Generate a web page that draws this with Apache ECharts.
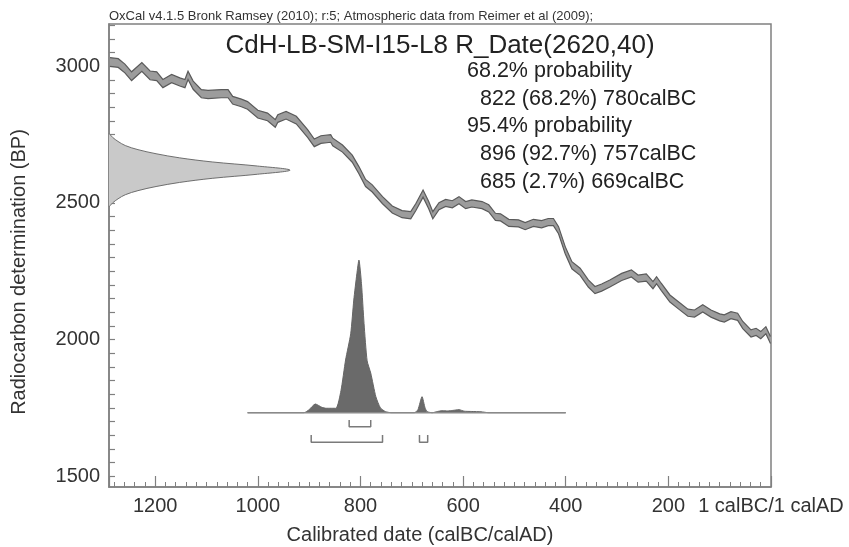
<!DOCTYPE html>
<html>
<head>
<meta charset="utf-8">
<script src="https://cdn.jsdelivr.net/npm/echarts@6/dist/echarts.min.js"></script>
<style>
  html, body { margin: 0; padding: 0; background: #fff; }
  #chart { width: 849px; height: 547px; }
</style>
</head>
<body>
<div id="chart"></div>
<script>
// Calibration curve (IntCal09): calendar year (calBC), radiocarbon age (BP), 1-sigma error (BP)
const curveYears = [1288, 1272, 1259, 1246, 1226, 1210, 1197, 1185, 1168, 1152, 1142, 1136, 1126, 1110, 1097, 1071, 1058, 1049, 1032, 1020, 1000, 981, 966, 961, 945, 925, 903, 890, 877, 858, 854, 835, 816, 803, 790, 777, 757, 738, 719, 702, 692, 678, 667, 659, 647, 634, 621, 608, 595, 583, 563, 550, 537, 527, 511, 492, 479, 463, 447, 434, 424, 414, 401, 388, 372, 356, 343, 330, 314, 291, 272, 259, 243, 230, 223, 214, 197, 181, 162, 149, 133, 117, 100, 91, 78, 65, 55, 39, 29, 20, 10, 1];
const curveBP    = [3016, 3012, 2992, 2964, 2998, 2967, 2964, 2937, 2955, 2943, 2937, 2967, 2931, 2900, 2897, 2900, 2900, 2876, 2866, 2857, 2825, 2815, 2791, 2809, 2821, 2803, 2754, 2720, 2732, 2736, 2723, 2699, 2662, 2620, 2573, 2553, 2510, 2476, 2459, 2455, 2485, 2534, 2492, 2455, 2488, 2500, 2495, 2510, 2492, 2498, 2492, 2480, 2449, 2447, 2427, 2425, 2415, 2427, 2422, 2430, 2430, 2400, 2327, 2272, 2248, 2205, 2181, 2190, 2205, 2229, 2242, 2223, 2227, 2199, 2217, 2193, 2150, 2126, 2098, 2095, 2114, 2095, 2081, 2077, 2089, 2083, 2053, 2022, 2028, 2016, 2034, 1998];
const curveErr   = [16, 16, 16, 16, 16, 16, 16, 15, 15, 15, 15, 15, 15, 15, 15, 15, 15, 14, 14, 14, 14, 14, 14, 14, 14, 14, 14, 14, 14, 14, 14, 13, 13, 13, 13, 13, 13, 13, 13, 13, 13, 13, 13, 13, 13, 13, 13, 13, 13, 13, 13, 13, 13, 13, 13, 13, 13, 13, 13, 13, 13, 13, 13, 13, 13, 13, 13, 13, 13, 13, 13, 13, 13, 13, 13, 13, 13, 13, 13, 13, 13, 13, 13, 13, 13, 13, 13, 13, 13, 13, 13, 13];

// Radiocarbon measurement R_Date(2620,40): age (BP) and relative likelihood
const measBP   = [2755, 2740, 2725, 2710, 2695, 2680, 2665, 2650, 2635, 2620, 2605, 2590, 2575, 2560, 2545, 2530, 2515, 2500, 2485];
const measProb = [0.0, 0.02, 0.05, 0.09, 0.16, 0.26, 0.39, 0.57, 0.82, 1.0, 0.82, 0.57, 0.39, 0.26, 0.16, 0.09, 0.05, 0.02, 0.0];

// Calibrated probability distribution: calendar year (calBC) and relative probability
const calYears = [1020, 910, 900, 888, 875, 867, 848, 838, 829, 819, 813, 807, 803, 798, 793, 787, 780, 770, 761, 751, 740, 695, 688, 680, 674, 670, 660, 650, 641, 630, 620, 608, 598, 583, 565, 550, 400];
const calProb  = [0, 0, 0.02, 0.057, 0.035, 0.029, 0.029, 0.144, 0.345, 0.517, 0.738, 0.91, 1.0, 0.845, 0.583, 0.34, 0.26, 0.105, 0.031, 0.007, 0, 0, 0.02, 0.105, 0.03, 0.007, 0, 0.008, 0.013, 0.012, 0.015, 0.02, 0.01, 0.008, 0.006, 0, 0];
const calSpan  = [1020, 400];

// Highest probability density ranges (calBC)
const range68 = [[822, 780]];
const range95 = [[896, 757], [685, 669]];

// Axis labels
const xTickLabels = [0, 200, 400, 600, 800, 1000, 1200];
const yTickLabels = [1500, 2000, 2500, 3000];
const yMinorTicks = [1500, 1550, 1600, 1650, 1700, 1750, 1800, 1850, 1900, 1950, 2000, 2050, 2100, 2150, 2200, 2250, 2300, 2350, 2400, 2450, 2500, 2550, 2600, 2650, 2700, 2750, 2800, 2850, 2900, 2950, 3000, 3050, 3100, 3150];

const headerText = 'OxCal v4.1.5 Bronk Ramsey (2010); r:5; Atmospheric data from Reimer et al (2009);';
const titleText = 'CdH-LB-SM-I15-L8 R_Date(2620,40)';
const summaryLines = [
  ['68.2% probability', 0],
  ['822 (68.2%) 780calBC', 1],
  ['95.4% probability', 0],
  ['896 (92.7%) 757calBC', 1],
  ['685 (2.7%) 669calBC', 1]
];

const FONT = '"Liberation Sans", Arial, sans-serif';
const chart = echarts.init(document.getElementById('chart'), null, { renderer: 'canvas' });

function bracketData(ranges, top, bottom) {
  const out = [];
  ranges.forEach(function (r, i) {
    if (i > 0) out.push([null, null]);
    out.push([r[0], top], [r[0], bottom], [r[1], bottom], [r[1], top]);
  });
  return out;
}

function bandRender(params, api) {
  if (params.dataIndex !== 0) return null;
  const upper = curveYears.map(function (yr, i) { return api.coord([yr, curveBP[i] + curveErr[i]]); });
  const lower = curveYears.map(function (yr, i) { return api.coord([yr, curveBP[i] - curveErr[i]]); });
  return {
    type: 'group',
    children: [
      { type: 'polygon', shape: { points: upper.concat(lower.slice().reverse()) }, style: { fill: '#9c9c9c', stroke: null } },
      { type: 'polyline', shape: { points: upper }, style: { stroke: '#5a5a5a', lineWidth: 1.2, fill: null } },
      { type: 'polyline', shape: { points: lower }, style: { stroke: '#5a5a5a', lineWidth: 1.2, fill: null } }
    ]
  };
}

function measRender(params, api) {
  if (params.dataIndex !== 0) return null;
  const pts = measBP.map(function (bp, i) { return api.coord([measProb[i], bp]); });
  return {
    type: 'polyline',
    shape: { points: pts, smooth: 0.35 },
    style: { fill: '#c9c9c9', stroke: '#6e6e6e', lineWidth: 1 }
  };
}

const plainNumber = function (v) { return String(v); };

const option = {
  animation: false,
  backgroundColor: '#ffffff',
  textStyle: { fontFamily: FONT },
  grid: {
    left: 109, right: 78, top: 24, bottom: 60,
    show: true, borderColor: '#808080', borderWidth: 1.5, backgroundColor: 'transparent'
  },
  xAxis: [
    {
      type: 'value', min: 0, max: 1290, interval: 200, inverse: true, position: 'bottom',
      axisLine: { show: true, onZero: false, lineStyle: { color: '#808080', width: 1.5 } },
      axisTick: { show: true, inside: true, length: 11, lineStyle: { color: '#808080', width: 1.2 } },
      minorTick: { show: true, splitNumber: 10, length: 5, lineStyle: { color: '#808080', width: 1 } },
      splitLine: { show: false },
      minorSplitLine: { show: false },
      axisLabel: {
        show: true, showMinLabel: true, margin: 9,
        fontSize: 20, color: '#333', fontFamily: FONT,
        customValues: xTickLabels,
        formatter: function (v) { return v === 0 ? '1 calBC/1 calAD' : String(v); }
      }
    },
    {
      type: 'value', min: 0, max: 3.657, show: false, position: 'top',
      axisLine: { show: false, onZero: false }, axisTick: { show: false }, axisLabel: { show: false },
      splitLine: { show: false }
    }
  ],
  yAxis: [
    {
      type: 'value', min: 1460, max: 3155, position: 'left',
      axisLine: { show: true, onZero: false, lineStyle: { color: '#808080', width: 1.5 } },
      axisTick: { show: true, inside: true, length: 6, customValues: yMinorTicks, lineStyle: { color: '#808080', width: 1.2 } },
      splitLine: { show: false },
      axisLabel: { show: true, margin: 9, fontSize: 20, color: '#333', fontFamily: FONT, customValues: yTickLabels, formatter: plainNumber }
    },
    {
      type: 'value', min: -0.4866, max: 2.546, show: false, position: 'right',
      axisLine: { show: false, onZero: false }, axisTick: { show: false }, axisLabel: { show: false },
      splitLine: { show: false }
    }
  ],
  series: [
    {
      // radiocarbon measurement on the age axis
      type: 'custom', xAxisIndex: 1, yAxisIndex: 0, silent: true,
      renderItem: measRender, data: [0], z: 2
    },
    {
      // calibration curve band
      type: 'custom', xAxisIndex: 0, yAxisIndex: 0, silent: true,
      renderItem: bandRender, data: [0], z: 3
    },
    {
      // calibrated date distribution
      type: 'line', xAxisIndex: 0, yAxisIndex: 1, silent: true,
      data: calYears.map(function (y, i) { return [y, calProb[i]]; }),
      symbol: 'none', smooth: 0.2,
      lineStyle: { color: '#666', width: 1 },
      areaStyle: { color: '#6a6a6a', opacity: 1, origin: 'auto' },
      z: 4
    },
    {
      type: 'line', xAxisIndex: 0, yAxisIndex: 1, silent: true,
      data: calSpan.map(function (y) { return [y, 0]; }),
      symbol: 'none', lineStyle: { color: '#8a8a8a', width: 1.5 }, z: 5
    },
    {
      type: 'line', xAxisIndex: 0, yAxisIndex: 1, silent: true,
      data: bracketData(range68, -0.0478, -0.0917),
      symbol: 'none', connectNulls: false,
      lineStyle: { color: '#7a7a7a', width: 1.5 }, z: 5
    },
    {
      type: 'line', xAxisIndex: 0, yAxisIndex: 1, silent: true,
      data: bracketData(range95, -0.1461, -0.1939),
      symbol: 'none', connectNulls: false,
      lineStyle: { color: '#7a7a7a', width: 1.5 }, z: 5
    }
  ],
  graphic: [
    {
      type: 'text', left: 109, top: 10,
      style: { text: headerText, fontSize: 13, fill: '#333', fontFamily: FONT }
    },
    {
      type: 'text', x: 440, y: 46,
      style: { text: titleText, fontSize: 26, fill: '#222', fontFamily: FONT, align: 'center', verticalAlign: 'middle' }
    }
  ].concat(summaryLines.map(function (line, i) {
    return {
      type: 'text', x: line[1] ? 480 : 467, y: 71 + i * 27.7,
      style: { text: line[0], fontSize: 21.5, fill: '#222', fontFamily: FONT, align: 'left', verticalAlign: 'middle' }
    };
  })).concat([
    {
      type: 'text', x: 420, y: 535,
      style: { text: 'Calibrated date (calBC/calAD)', fontSize: 20, fill: '#333', fontFamily: FONT, align: 'center', verticalAlign: 'middle' }
    },
    {
      type: 'text', x: 19, y: 272, rotation: Math.PI / 2,
      style: { text: 'Radiocarbon determination (BP)', fontSize: 20, fill: '#333', fontFamily: FONT, align: 'center', verticalAlign: 'middle' }
    }
  ])
};

chart.setOption(option);
</script>
</body>
</html>
